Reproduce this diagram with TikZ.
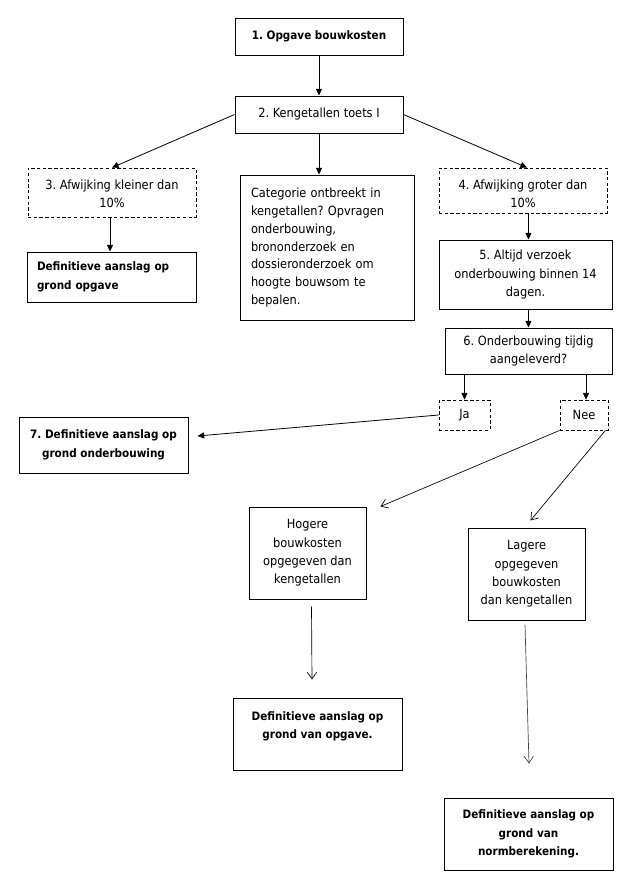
\documentclass[tikz,border=0pt]{standalone}
\usepackage{fontspec}
\setmainfont{DejaVu Sans Condensed}
\usetikzlibrary{arrows.meta,calc}
\frenchspacing
\tikzset{
  box/.style={draw=black, line width=0.75pt, inner sep=0pt, align=center,
    font=\fontsize{9.5}{13.8}\selectfont},
  dbox/.style={box, dash pattern=on 2.5pt off 1.8pt, line width=0.6pt},
  bfont/.style={font=\fontsize{8.7}{13.8}\selectfont\bfseries},
  farrow/.style={line width=0.6pt, -{Triangle[length=5pt,width=4.5pt]}},
  oarrow/.style={line width=0.5pt, -{Straight Barb[length=5pt,width=7pt]}},
}
\begin{document}
\begin{tikzpicture}[x=0.75pt,y=-0.75pt]
\useasboundingbox (0,0) rectangle (638,886);
\node[box,bfont,minimum width=126pt,minimum height=27.75pt] (b1) at (319,36.5) {1. Opgave bouwkosten};
\node[box,minimum width=126pt,minimum height=27.75pt] (b2) at (319,114.5) {2. Kengetallen toets I};
\node[dbox,minimum width=126pt,minimum height=36.75pt] (b3) at (112,192.5) {\rule{0pt}{9pt}3. Afwijking kleiner dan\\10\%};
\node[box,minimum width=130.5pt,minimum height=108.75pt,align=left,text width=114pt,
  font=\fontsize{9.5}{13.3}\selectfont] (cat) at (327,247.5)
  {Categorie ontbreekt in\\kengetallen? Opvragen\\onderbouwing,\\brononderzoek en\\dossieronderzoek om\\hoogte bouwsom te\\bepalen.};
\node[dbox,minimum width=126pt,minimum height=33.75pt] (b4) at (523,190.5) {\rule{0pt}{12.5pt}4. Afwijking groter dan\\10\%};
\node[box,bfont,minimum width=126.75pt,minimum height=37.5pt,align=left,text width=111.75pt] (d1) at (111.5,277)
  {Definitieve aanslag op\\grond opgave};
\node[box,minimum width=129.75pt,minimum height=51.75pt] (b5) at (525.5,274.5) {5. Altijd verzoek\\onderbouwing binnen 14\\dagen.};
\node[box,minimum width=125.25pt,minimum height=34.5pt] (b6) at (528.5,351) {6. Onderbouwing tijdig\\aangeleverd?};
\node[dbox,minimum width=38.25pt,minimum height=22.5pt] (ja) at (464.5,415) {Ja};
\node[dbox,minimum width=36pt,minimum height=22.5pt] (nee) at (584,415) {Nee};
\node[box,bfont,minimum width=126.75pt,minimum height=42pt] (b7) at (103.5,445) {7. Definitieve aanslag op\\grond onderbouwing};
\node[box,minimum width=87.75pt,minimum height=69pt] (hog) at (307.5,553) {Hogere\\bouwkosten\\opgegeven dan\\kengetallen};
\node[box,minimum width=87.75pt,minimum height=69pt] (lag) at (526.5,574) {Lagere\\opgegeven\\bouwkosten\\dan kengetallen};
\node[box,bfont,minimum width=126.75pt,minimum height=54pt] (dop) at (317.5,734) {Definitieve aanslag op\\grond van opgave.\\~};
\node[box,bfont,minimum width=126.75pt,minimum height=54pt] (dn) at (528.5,834) {Definitieve aanslag op\\grond van\\normberekening.};

\draw[farrow] (b1) -- (b2);
\draw[farrow] (b2.west) -- (b3.north);
\draw[farrow] (b2) -- (cat.north -| b2.south);
\draw[farrow] (b2.east) -- ($(b4.north)+(4,0)$);
\draw[farrow] ($(b3.south)+(-2,0)$) -- ($(d1.north)+(-1.5,0)$);
\draw[farrow] (b4.south -| b6.north) -- (b5.north -| b6.north);
\draw[farrow] (b5.south -| b6.north) -- (b6.north);
\draw[farrow] (b6.south -| ja.north) -- (ja.north);
\draw[farrow] ($(b6.south -| nee.north)+(2,0)$) -- ($(nee.north)+(2,0)$);
\draw[farrow] (ja.west) -- ($(b7.east)+(9,-9)$);
\draw[oarrow] (nee.south west) -- ($(hog.north east)+(14,0)$);
\draw[oarrow] ($(nee.south east)+(-3,0)$) -- ($(lag.north)+(4,-7)$);
\draw[oarrow] ($(hog.south)+(4,7)$) -- ($(dop.north)+(-5.5,-18)$);
\draw[oarrow, draw=black!75] ($(lag.south)+(-1.5,4)$) -- ($(dn.north)+(0.5,-34)$);
\end{tikzpicture}
\end{document}
